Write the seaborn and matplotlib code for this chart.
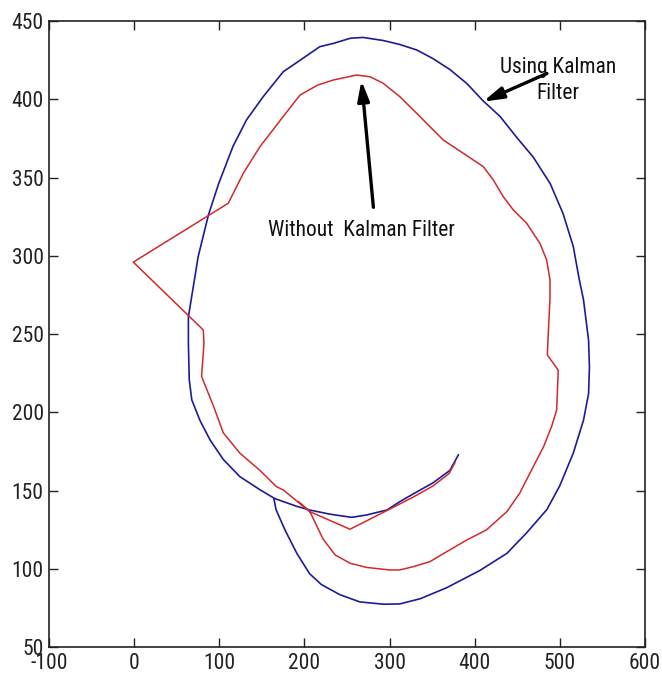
import matplotlib
matplotlib.use("Agg")
import matplotlib.pyplot as plt
from matplotlib import font_manager
import seaborn as sns
import pandas as pd

# ---- data ----
blue_x = [164, 166.5, 177, 191, 206, 220, 242, 265, 293, 312, 336, 367, 406, 438, 461,
          485, 500, 516, 528, 534, 535, 534, 531, 528, 523, 516, 504, 489, 469, 449,
          430, 410, 391, 371, 351, 332, 312, 293, 269, 254, 234, 218, 195, 175, 151.5,
          132, 116, 99, 87, 75, 63.5, 63.5, 64.5, 67.5, 77, 89, 104.5, 124, 148, 165,
          191, 206, 230, 255.5, 273, 297, 312, 328, 351, 371, 381]
blue_y = [145, 138, 125, 110, 97, 90, 83.5, 79, 77.5, 77.7, 81, 88, 99, 110, 123,
          138, 153, 174, 195, 212, 229, 246, 259, 272, 285, 306, 327, 346, 363, 376,
          389, 399, 410, 419, 426, 431.5, 435, 437.5, 439.5, 439, 435.7, 433.6, 425, 417.6, 401.7,
          387, 370, 346, 326, 299.5, 261, 244, 221, 208, 195, 182.4, 170, 159, 150.5, 145,
          140, 137.7, 135, 133, 134.5, 137.7, 143, 148, 155, 163, 173]

red_x = [193, 206, 222, 236, 253.5, 273, 300, 312, 328, 347.5, 367, 391, 414, 438, 453,
         469, 481, 490.5, 496.5, 498.3, 492.5, 485.5, 486.6, 488.6, 488.6, 484.7, 476.8, 461.2, 445.5, 433.7,
         422, 410.2, 386.7, 363.2, 347.5, 332, 312, 292.6, 277, 261.3, 233.8, 215.2, 194.7, 175, 147.6,
         128, 110.4, -1.3, 81, 81.8, 79, 93, 104.5, 124, 147.6, 167, 175, 206, 253.5, 294.6,
         328, 351, 370, 377]
red_y = [143, 137, 119, 109, 103.7, 101, 99.4, 99.4, 101.5, 104.7, 111, 118.6, 125, 136.7, 148.4,
         165.4, 178, 191, 201.6, 227, 231.4, 236.7, 250.6, 272, 284.6, 297.4, 308, 320.8, 329.3, 337.8,
         348.5, 357, 365.5, 374, 382.5, 391, 401.7, 410.2, 414.4, 415.5, 412.3, 409, 402.7, 389, 369.7,
         352.7, 333.6, 296, 252.7, 244, 223, 204, 187, 174, 163, 152.6, 150.5, 136.7, 125.4, 136.7,
         146, 153, 161, 168]

x_ticks = [-100, 0, 100, 200, 300, 400, 500, 600]
y_ticks = [50, 100, 150, 200, 250, 300, 350, 400, 450]

label_without = "Without  Kalman Filter"
label_using = "Using Kalman\nFilter"

# ---- style ----
sns.set_style("ticks")


def pick_font():
    for fam in ["Liberation Sans Narrow", "Arial Narrow", "Roboto Condensed"]:
        try:
            font_manager.findfont(font_manager.FontProperties(family=fam),
                                  fallback_to_default=False)
            return fam
        except Exception:
            pass
    return "Liberation Sans"


FONT = pick_font()
plt.rcParams["font.family"] = [FONT, "DejaVu Sans"]

fig = plt.figure(figsize=(6.62, 6.82), dpi=100)
ax = fig.add_axes([0.0745, 0.0509, 0.8994, 0.9183])

blue_df = pd.DataFrame({"x": blue_x, "y": blue_y})
red_df = pd.DataFrame({"x": red_x, "y": red_y})

sns.lineplot(data=blue_df, x="x", y="y", sort=False, estimator=None, ax=ax,
             color="#1c1c96", linewidth=1.2)
sns.lineplot(data=red_df, x="x", y="y", sort=False, estimator=None, ax=ax,
             color="#d02a2a", linewidth=1.1)

ax.set_xlim(-100, 600)
ax.set_ylim(50, 450)
ax.set_xticks(x_ticks)
ax.set_yticks(y_ticks)
ax.set_xticklabels([str(v) for v in x_ticks])
ax.set_yticklabels([str(v) for v in y_ticks])
ax.set_xlabel("")
ax.set_ylabel("")
ax.tick_params(direction="in", length=6.5, width=1, top=True, right=True,
               labelsize=15.5, colors="#222222", pad=4)
for s in ax.spines.values():
    s.set_visible(True)
    s.set_linewidth(1.2)
    s.set_color("#222222")

arrow_kw = dict(arrowstyle="-|>,head_length=1.2,head_width=0.35", color="black",
                lw=2.4, shrinkA=0, shrinkB=0)

ax.annotate("", xy=(267, 412), xytext=(281, 331), arrowprops=arrow_kw)
ax.text(267, 316, label_without, fontsize=15.5, ha="center", va="center",
        color="#111111")

ax.annotate("", xy=(410, 398.5), xytext=(485, 416.5), arrowprops=arrow_kw)
ax.text(498, 412, label_using, fontsize=15.5, ha="center", va="center",
        color="#111111", linespacing=1.3, multialignment="center")

fig.savefig("out.png", dpi=100)
